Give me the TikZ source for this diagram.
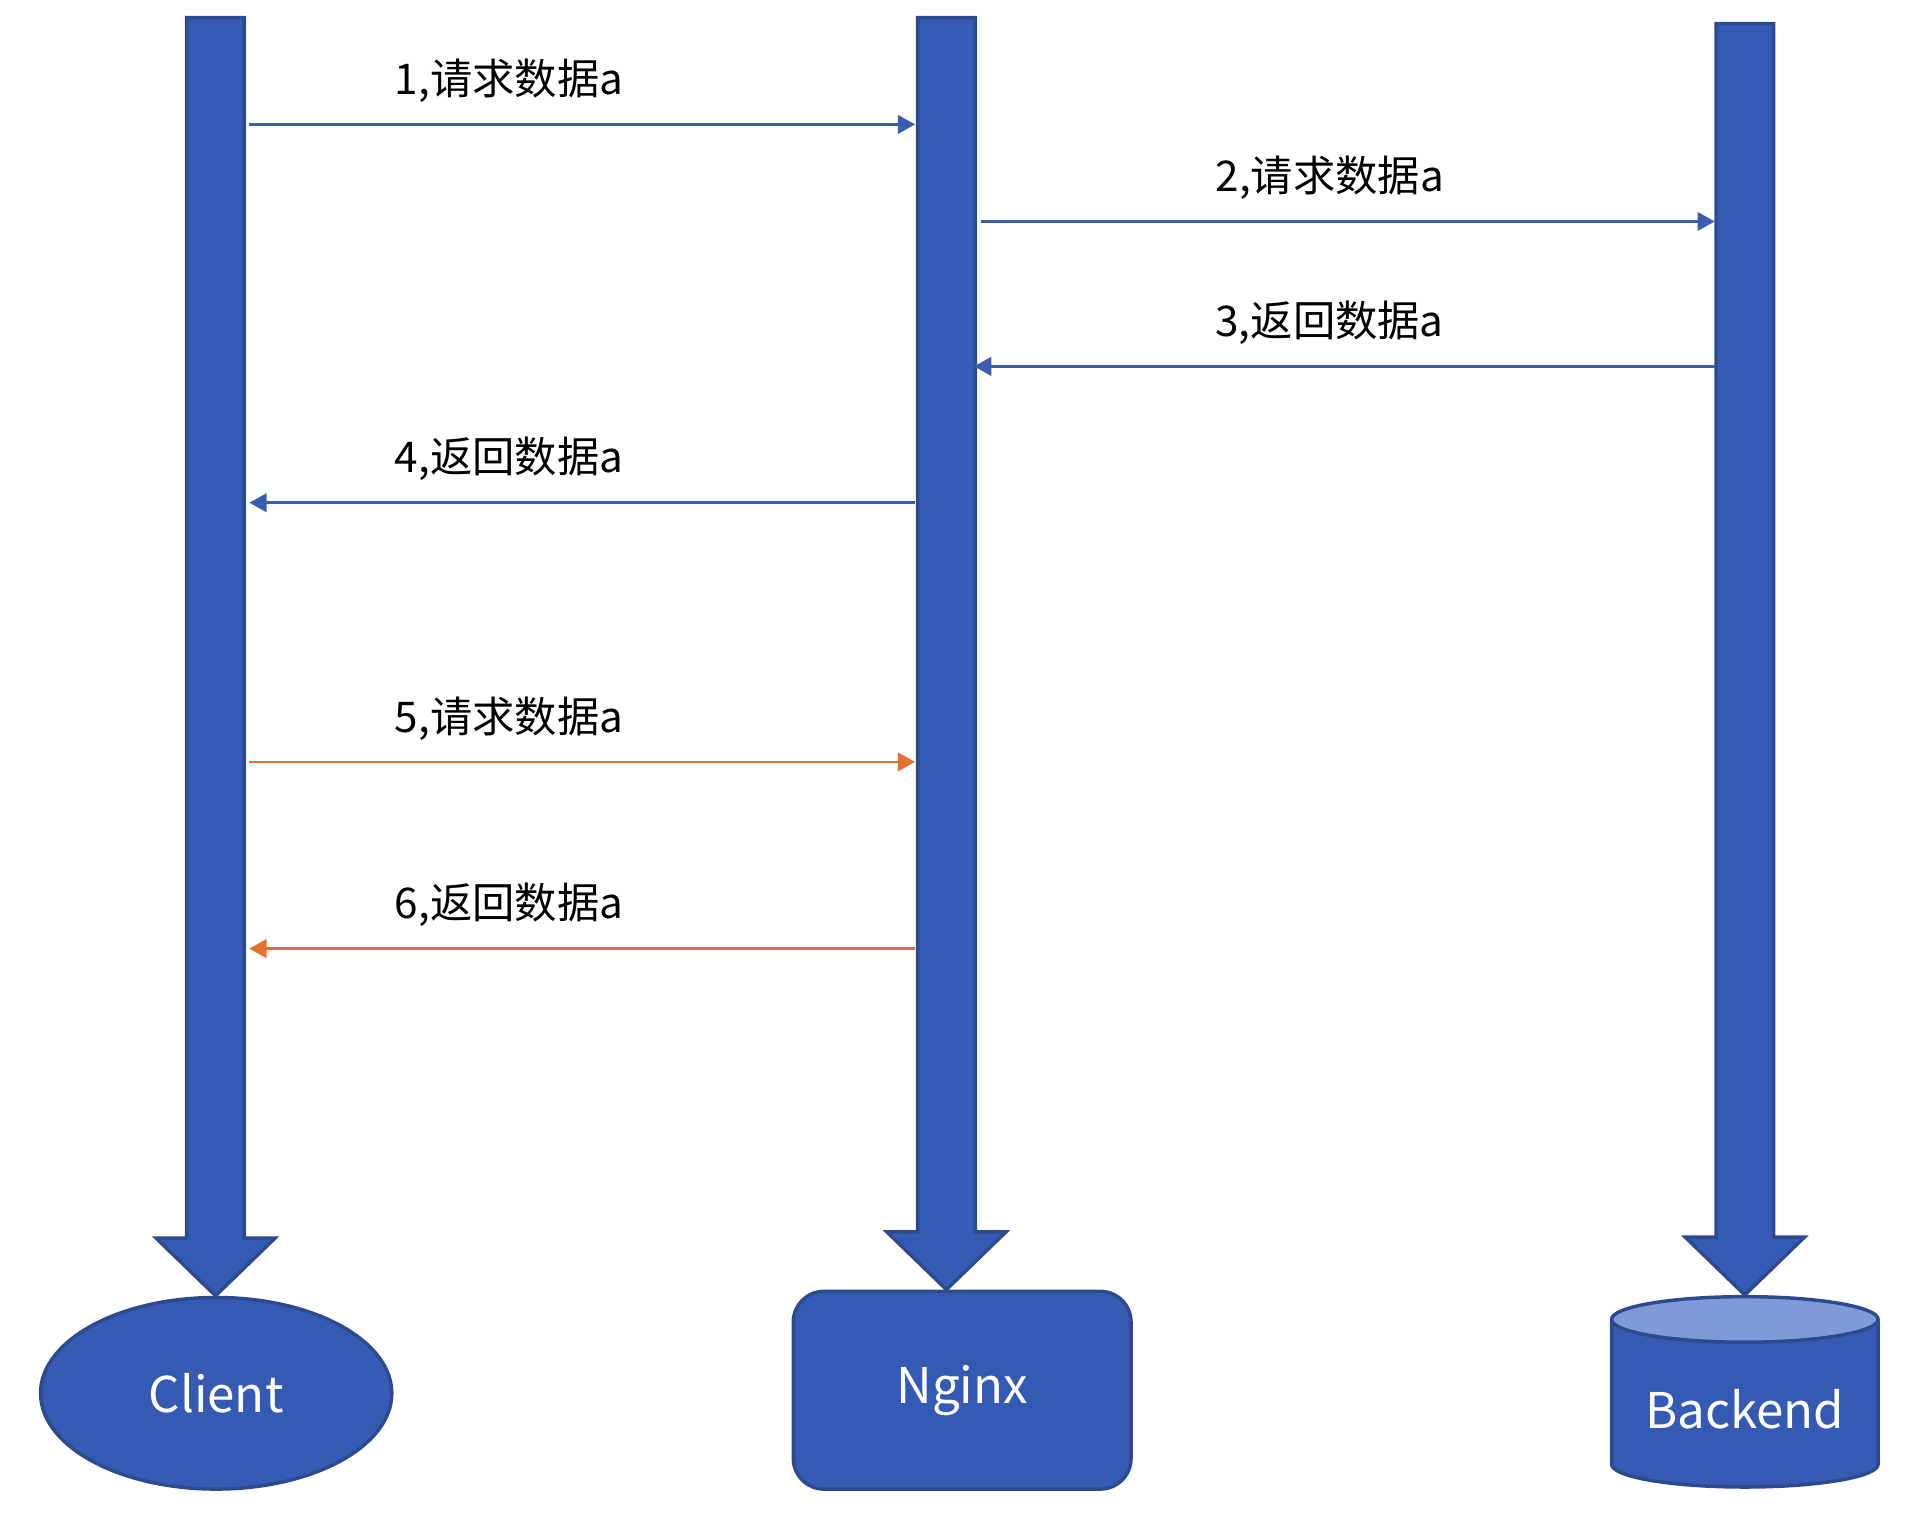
\documentclass[tikz,border=0pt]{standalone}
\usepackage{fontspec}
\usepackage{tikz}
\usetikzlibrary{positioning}
\usetikzlibrary{arrows.meta}
\usetikzlibrary{shapes.geometric}
\usetikzlibrary{calc}

\newfontfamily\cjk{Noto Sans CJK SC}
\definecolor{laneblue}{HTML}{355AB4}
\definecolor{laneedge}{HTML}{2C4A8E}
\definecolor{msgblue}{HTML}{3B5DB1}
\definecolor{msgorange}{HTML}{E8702F}
\definecolor{dbtop}{HTML}{7F9AD6}

\begin{document}
\begin{tikzpicture}[
  party/.style={draw=laneedge, line width=0.8pt, fill=laneblue, text=white, font=\cjk\fontsize{11.4}{14}\selectfont},
  lane/.style={draw=laneedge, line width=0.8pt, fill=laneblue},
  msg/.style={-{Triangle[length=0.14cm, width=0.15cm]}, line width=0.6pt, draw=msgblue},
  msglabel/.style={font=\cjk\fontsize{9.8}{11}\selectfont, above=0.5mm}
]
\useasboundingbox (0,-0.062) rectangle (15.68,12.263);

% Parties
\node[party, ellipse, minimum width=2.86cm, minimum height=1.56cm] (client) at (1.76,0.92) {Client};
\node[party, rectangle, rounded corners=0.25cm, minimum width=2.75cm, minimum height=1.61cm, right=3.24cm of client, yshift=0.025cm] (nginx) {Nginx};
\node[party, fill=none, cylinder, shape border rotate=90, aspect=0.2, cylinder uses custom fill, cylinder body fill=laneblue, cylinder end fill=dbtop, minimum width=2.17cm, minimum height=1.55cm] (backend) at (14.205,0.79) {Backend};

% Lanes
\coordinate (clienttop) at (1.755,12.12);
\coordinate (nginxtop) at (7.705,12.12);
\coordinate (backendtop) at (14.205,12.07);

\foreach \n in {client,nginx,backend} {
  \coordinate (\n tip) at (\n.north -| \n top);
  \draw[lane] ($(\n top)+(-0.235,0)$) -- ($(\n top)+(0.235,0)$) -- ($(\n tip)+(0.235,0.47)$)
    -- ($(\n tip)+(0.485,0.47)$) -- (\n tip) -- ($(\n tip)+(-0.485,0.47)$) -- ($(\n tip)+(-0.235,0.47)$) -- cycle;
}

% Messages
\coordinate (m1) at (0,11.25);
\coordinate (m2) at (0,10.46);
\coordinate (m3) at (0,9.28);
\coordinate (m4) at (0,8.17);
\coordinate (m5) at (0,6.06);
\coordinate (m6) at (0,4.54);

\draw[msg] ($(clienttop |- m1)+(0.275,0)$) -- node[msglabel, pos=0.39] {1,请求数据a} ($(nginxtop |- m1)+(-0.255,0)$);
\draw[msg] ($(nginxtop |- m2)+(0.285,0)$) -- node[msglabel, pos=0.475] {2,请求数据a} ($(backendtop |- m2)+(-0.245,0)$);
\draw[msg] ($(backendtop |- m3)+(-0.245,0)$) -- node[msglabel, pos=0.52] {3,返回数据a} ($(nginxtop |- m3)+(0.225,0)$);
\draw[msg] ($(nginxtop |- m4)+(-0.255,0)$) -- node[msglabel, pos=0.61] {4,返回数据a} ($(clienttop |- m4)+(0.275,0)$);
\draw[msg, draw=msgorange] ($(clienttop |- m5)+(0.275,0)$) -- node[msglabel, pos=0.39] {5,请求数据a} ($(nginxtop |- m5)+(-0.255,0)$);
\draw[msg, draw=msgorange] ($(nginxtop |- m6)+(-0.255,0)$) -- node[msglabel, pos=0.61] {6,返回数据a} ($(clienttop |- m6)+(0.275,0)$);

\end{tikzpicture}
\end{document}
